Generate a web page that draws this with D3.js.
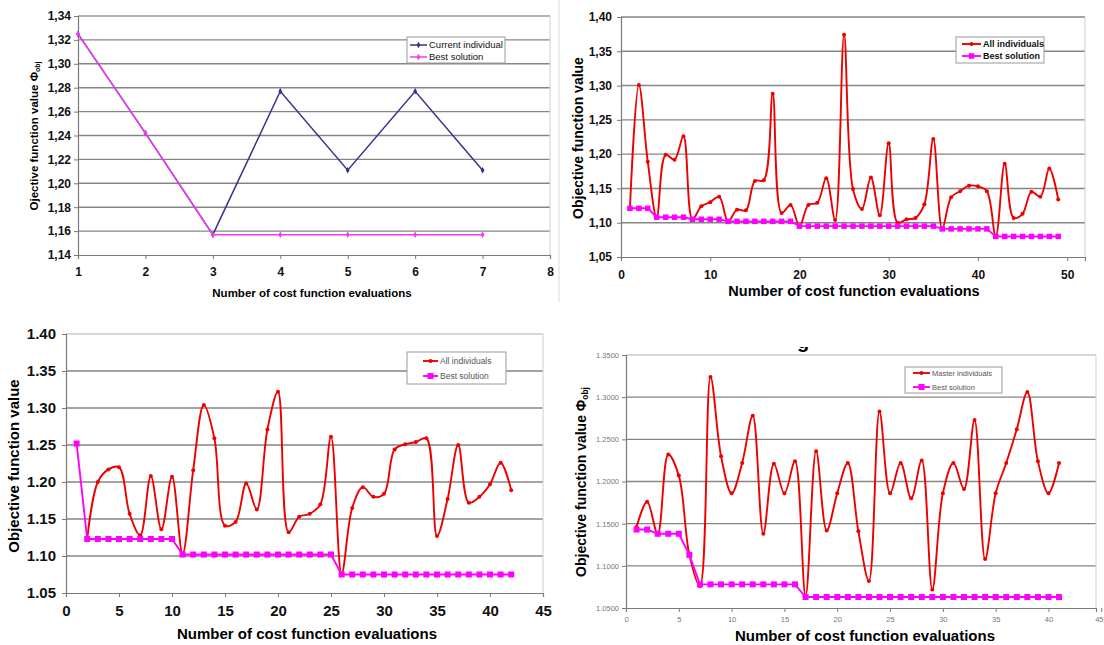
<!DOCTYPE html>
<html>
<head>
<meta charset="utf-8">
<script src="https://cdn.jsdelivr.net/npm/d3@7"></script>
<style>
  body { margin: 0; background: #fff; }
  svg text { font-family: "Liberation Sans", Arial, sans-serif; }
</style>
</head>
<body>
<svg id="chart" width="1104" height="645"></svg>
<script>
// ---- panel 1 (top left) ----
const p1Current = [1.325, 1.242, 1.157, 1.277, 1.211, 1.277, 1.211]
const p1Best = [1.325, 1.242, 1.157, 1.157, 1.157, 1.157, 1.157]
const p1XTicks = [1, 2, 3, 4, 5, 6, 7, 8]
const p1YTicks = [1.14, 1.16, 1.18, 1.20, 1.22, 1.24, 1.26, 1.28, 1.30, 1.32, 1.34]

// ---- panel 2 (top right) ----
const p2All = [1.121, 1.301, 1.189, 1.108, 1.199, 1.192, 1.226, 1.105, 1.124, 1.130,
  1.138, 1.102, 1.119, 1.118, 1.161, 1.162, 1.288, 1.114, 1.126, 1.095,
  1.126, 1.129, 1.165, 1.104, 1.374, 1.149, 1.120, 1.166, 1.111, 1.216,
  1.100, 1.105, 1.107, 1.127, 1.222, 1.091, 1.137, 1.146, 1.154, 1.153,
  1.146, 1.080, 1.186, 1.107, 1.113, 1.145, 1.138, 1.179, 1.134]
const p2Best = [1.121, 1.121, 1.121, 1.108, 1.108, 1.108, 1.108, 1.105, 1.105, 1.105,
  1.105, 1.102, 1.102, 1.102, 1.102, 1.102, 1.102, 1.102, 1.102, 1.095,
  1.095, 1.095, 1.095, 1.095, 1.095, 1.095, 1.095, 1.095, 1.095, 1.095,
  1.095, 1.095, 1.095, 1.095, 1.095, 1.091, 1.091, 1.091, 1.091, 1.091,
  1.091, 1.080, 1.080, 1.080, 1.080, 1.080, 1.080, 1.080, 1.080]
const p2XTicks = [0, 10, 20, 30, 40, 50]
const p2YTicks = [1.05, 1.10, 1.15, 1.20, 1.25, 1.30, 1.35, 1.40]

// ---- panel 3 (bottom left) ----
const p3AllStart = 2
const p3All = [1.123, 1.200, 1.217, 1.220, 1.157, 1.128, 1.208, 1.136, 1.207, 1.103,
  1.216, 1.304, 1.259, 1.141, 1.146, 1.198, 1.163, 1.271, 1.322, 1.132,
  1.153, 1.157, 1.170, 1.261, 1.076, 1.165, 1.193, 1.180, 1.184, 1.244,
  1.251, 1.254, 1.259, 1.127, 1.177, 1.250, 1.172, 1.180, 1.197, 1.226, 1.189]
const p3Best = [1.252, 1.123, 1.123, 1.123, 1.123, 1.123, 1.123, 1.123, 1.123, 1.123,
  1.102, 1.102, 1.102, 1.102, 1.102, 1.102, 1.102, 1.102, 1.102, 1.102,
  1.102, 1.102, 1.102, 1.102, 1.102, 1.075, 1.075, 1.075, 1.075, 1.075,
  1.075, 1.075, 1.075, 1.075, 1.075, 1.075, 1.075, 1.075, 1.075, 1.075, 1.075, 1.075]
const p3XTicks = [0, 5, 10, 15, 20, 25, 30, 35, 40, 45]
const p3YTicks = [1.05, 1.10, 1.15, 1.20, 1.25, 1.30, 1.35, 1.40]

// ---- panel 4 (bottom right) ----
const p4Master = [1.146, 1.176, 1.138, 1.232, 1.207, 1.113, 1.076, 1.324, 1.230, 1.186,
  1.222, 1.278, 1.138, 1.221, 1.186, 1.224, 1.064, 1.236, 1.142, 1.186,
  1.222, 1.141, 1.082, 1.283, 1.186, 1.222, 1.180, 1.225, 1.072, 1.186,
  1.222, 1.191, 1.273, 1.108, 1.186, 1.222, 1.262, 1.306, 1.224, 1.186, 1.222]
const p4Best = [1.143, 1.143, 1.138, 1.138, 1.138, 1.113, 1.078, 1.078, 1.078, 1.078,
  1.078, 1.078, 1.078, 1.078, 1.078, 1.078, 1.063, 1.063, 1.063, 1.063,
  1.063, 1.063, 1.063, 1.063, 1.063, 1.063, 1.063, 1.063, 1.063, 1.063,
  1.063, 1.063, 1.063, 1.063, 1.063, 1.063, 1.063, 1.063, 1.063, 1.063, 1.063]
const p4XTicks = [0, 5, 10, 15, 20, 25, 30, 35, 40, 45]
const p4YTicks = [1.05, 1.10, 1.15, 1.20, 1.25, 1.30, 1.35]

const xTitle = "Number of cost function evaluations"
const red = "#ee0000"
const magenta = "#ff00ff"
const navy = "#33338a"

const svg = d3.select("#chart")

// turn a value array into points, numbering evaluations from `start`
const toPoints = (values, start) => values.map((v, i) => ({ x: start + i, v: v }))

function drawPanel(p) {
  let g = svg.append("g")
  let x = d3.scaleLinear().domain(p.xDomain).range(p.xRange)
  let y = d3.scaleLinear().domain(p.yDomain).range(p.yRange)
  let left = p.xRange[0], right = p.xRange[1]

  // horizontal gridlines
  g.append("g").selectAll("line")
    .data(p.yTicks.filter(d => d !== p.yDomain[0]))
    .join("line")
    .attr("x1", left).attr("x2", right)
    .attr("y1", d => y(d)).attr("y2", d => y(d))
    .attr("stroke", d => (d === p.yDomain[1] ? p.topColor : "#858585"))
    .attr("stroke-width", 1.4)

  // right border of the plot area
  g.append("line")
    .attr("x1", right).attr("x2", right)
    .attr("y1", p.yRange[1]).attr("y2", p.yRange[0])
    .attr("stroke", "#cfcfcf")

  let yAxis = g.append("g")
    .attr("transform", `translate(${left},0)`)
    .call(d3.axisLeft(y).tickValues(p.yTicks).tickFormat(p.yFormat).tickSize(4).tickPadding(p.yPad))
  let xAxis = g.append("g")
    .attr("transform", `translate(0,${p.yRange[0]})`)
    .call(d3.axisBottom(x).tickValues(p.xTicks).tickFormat(d3.format("d")).tickSize(4).tickPadding(p.xPad))

  for (let ax of [yAxis, xAxis]) {
    ax.attr("font-family", null).attr("font-size", null)
    ax.select(".domain").attr("stroke", "#7a7a7a").attr("stroke-width", 1.2)
    ax.selectAll(".tick line").attr("stroke", "#7a7a7a")
    ax.selectAll(".tick text")
      .style("font-size", p.tickSize + "px")
      .style("font-weight", p.tickWeight)
      .attr("fill", p.tickColor)
  }
  // a tick label past the right edge of the page is pulled back inside it
  xAxis.selectAll(".tick text")
    .filter(d => x(d) > 1096)
    .attr("text-anchor", "end")
    .attr("x", 1103 - x(p.xTicks[p.xTicks.length - 1]))

  // series
  for (let s of p.series) {
    let line = d3.line().x(d => x(d.x)).y(d => y(d.v)).curve(s.curve)
    g.append("path")
      .datum(s.points)
      .attr("d", line)
      .attr("fill", "none")
      .attr("stroke", s.color)
      .attr("stroke-width", s.width)
    drawMarkers(g, s.points.map(d => [x(d.x), y(d.v)]), s)
  }

  // axis titles
  g.append("text")
    .attr("x", p.xTitlePos[0]).attr("y", p.xTitlePos[1])
    .attr("text-anchor", "middle")
    .style("font-size", p.titleSize + "px").style("font-weight", "bold")
    .text(xTitle)

  let yt = g.append("text")
    .attr("transform", `translate(${p.yTitlePos[0]},${p.yTitlePos[1]}) rotate(-90)`)
    .attr("text-anchor", "middle")
    .style("font-size", p.yTitleSize + "px").style("font-weight", "bold")
  yt.append("tspan").text(p.yTitle)
  if (p.yTitlePhi) {
    yt.append("tspan").text(p.yTitlePhi)
    yt.append("tspan").text("obj")
      .style("font-size", (p.yTitleSize * 0.6) + "px")
      .attr("dy", 2)
  }

  // legend
  let lg = g.append("g")
  let [bx, by, bw, bh] = p.legendBox
  lg.append("rect")
    .attr("x", bx).attr("y", by).attr("width", bw).attr("height", bh)
    .attr("fill", "#fff").attr("stroke", "#9a9a9a")
  p.series.forEach((s, i) => {
    let ry = p.legendRows[i]
    lg.append("line")
      .attr("x1", p.legendLine[0]).attr("x2", p.legendLine[1])
      .attr("y1", ry).attr("y2", ry)
      .attr("stroke", s.color).attr("stroke-width", s.width)
    drawMarkers(lg, [[(p.legendLine[0] + p.legendLine[1]) / 2, ry]], s)
    lg.append("text")
      .attr("x", p.legendLine[1] + 2).attr("y", ry)
      .attr("dy", "0.35em")
      .style("font-size", p.legendSize + "px")
      .style("font-weight", p.legendWeight)
      .attr("fill", p.legendColor)
      .text(s.name)
  })
}

function drawMarkers(g, pts, s) {
  if (s.marker === "square") {
    g.append("g").selectAll("rect").data(pts).join("rect")
      .attr("x", d => d[0] - s.size / 2).attr("y", d => d[1] - s.size / 2)
      .attr("width", s.size).attr("height", s.size)
      .attr("fill", s.color)
  } else if (s.marker === "dot") {
    g.append("g").selectAll("circle").data(pts).join("circle")
      .attr("cx", d => d[0]).attr("cy", d => d[1])
      .attr("r", s.size / 2)
      .attr("fill", s.color)
  } else {
    g.append("g").selectAll("path").data(pts).join("path")
      .attr("transform", d => `translate(${d[0]},${d[1]})`)
      .attr("d", d3.symbol(d3.symbolDiamond, s.size * s.size))
      .attr("fill", s.color)
  }
}

const comma = d => d.toFixed(2).replace(".", ",")
const smooth = d3.curveCatmullRom.alpha(0.5)

// faint divider between the two upper pictures
svg.append("line")
  .attr("x1", 559).attr("x2", 559).attr("y1", 0).attr("y2", 302)
  .attr("stroke", "#dcdcdc")

drawPanel({
  xDomain: [1, 8], xRange: [78, 550],
  yDomain: [1.14, 1.34], yRange: [255, 16],
  xTicks: p1XTicks, yTicks: p1YTicks, yFormat: comma,
  topColor: "#9a9a9a",
  tickSize: 12, tickWeight: "bold", tickColor: "#111", yPad: 3, xPad: 8,
  titleSize: 11.5, xTitlePos: [312, 297],
  yTitle: "Ojective function value ", yTitlePhi: "\u03a6", yTitleSize: 11.5, yTitlePos: [38, 136],
  legendBox: [407, 37, 98, 26], legendRows: [45, 57], legendLine: [410, 427],
  legendSize: 9.5, legendWeight: "normal", legendColor: "#111",
  series: [
    { name: "Current individual", points: toPoints(p1Current, 1), color: navy, width: 1.5, marker: "diamond", size: 3.5, curve: d3.curveLinear },
    { name: "Best solution", points: toPoints(p1Best, 1), color: "#f03cf0", width: 1.5, marker: "diamond", size: 3.5, curve: d3.curveLinear }
  ]
})

drawPanel({
  xDomain: [0, 52], xRange: [621, 1085],
  yDomain: [1.05, 1.40], yRange: [257, 17],
  xTicks: p2XTicks, yTicks: p2YTicks, yFormat: comma,
  topColor: "#858585",
  tickSize: 12, tickWeight: "bold", tickColor: "#111", yPad: 5, xPad: 9,
  titleSize: 14.5, xTitlePos: [854, 296],
  yTitle: "Objective function value", yTitleSize: 14, yTitlePos: [583, 138],
  legendBox: [956, 37, 88, 26], legendRows: [44, 56], legendLine: [962, 981],
  legendSize: 9, legendWeight: "bold", legendColor: "#111",
  series: [
    { name: "All individuals", points: toPoints(p2All, 1), color: red, width: 1.9, marker: "dot", size: 4, curve: smooth },
    { name: "Best solution", points: toPoints(p2Best, 1), color: magenta, width: 1.9, marker: "square", size: 5.5, curve: d3.curveLinear }
  ]
})

drawPanel({
  xDomain: [0, 45], xRange: [66, 543],
  yDomain: [1.05, 1.40], yRange: [593, 334],
  xTicks: p3XTicks, yTicks: p3YTicks, yFormat: d => d.toFixed(2),
  topColor: "#c8c8c8",
  tickSize: 15, tickWeight: "bold", tickColor: "#111", yPad: 6, xPad: 8,
  titleSize: 15, xTitlePos: [307, 639],
  yTitle: "Objective function value", yTitleSize: 15, yTitlePos: [19, 466],
  legendBox: [407, 352, 99, 32], legendRows: [361, 376], legendLine: [423, 438],
  legendSize: 8.5, legendWeight: "normal", legendColor: "#555",
  series: [
    { name: "All individuals", points: toPoints(p3All, p3AllStart), color: red, width: 1.9, marker: "dot", size: 4, curve: smooth },
    { name: "Best solution", points: toPoints(p3Best, 1), color: magenta, width: 1.9, marker: "square", size: 6, curve: d3.curveLinear }
  ]
})

drawPanel({
  xDomain: [0, 44.5], xRange: [626, 1096],
  yDomain: [1.05, 1.35], yRange: [608, 355],
  xTicks: p4XTicks, yTicks: p4YTicks, yFormat: d => d.toFixed(4),
  topColor: "#c8c8c8",
  tickSize: 7.5, tickWeight: "normal", tickColor: "#777", yPad: 3, xPad: 5,
  titleSize: 15, xTitlePos: [865, 641],
  yTitle: "Objective function value   ", yTitlePhi: "\u03a6", yTitleSize: 14, yTitlePos: [586, 482],
  legendBox: [905, 367, 97, 26], legendRows: [373, 387], legendLine: [913, 930],
  legendSize: 7.5, legendWeight: "normal", legendColor: "#555",
  series: [
    { name: "Master individuals", points: toPoints(p4Master, 1), color: red, width: 1.9, marker: "dot", size: 4, curve: smooth },
    { name: "Best solution", points: toPoints(p4Best, 1), color: magenta, width: 1.9, marker: "square", size: 6, curve: d3.curveLinear }
  ]
})

// the bottom of a title letter that was cut off above the last picture
svg.append("clipPath").attr("id", "cut")
  .append("rect").attr("x", 780).attr("y", 347).attr("width", 40).attr("height", 12)
svg.append("text")
  .attr("x", 797).attr("y", 348)
  .attr("clip-path", "url(#cut)")
  .style("font-size", "20px").style("font-weight", "bold")
  .text("g")
</script>
</body>
</html>
